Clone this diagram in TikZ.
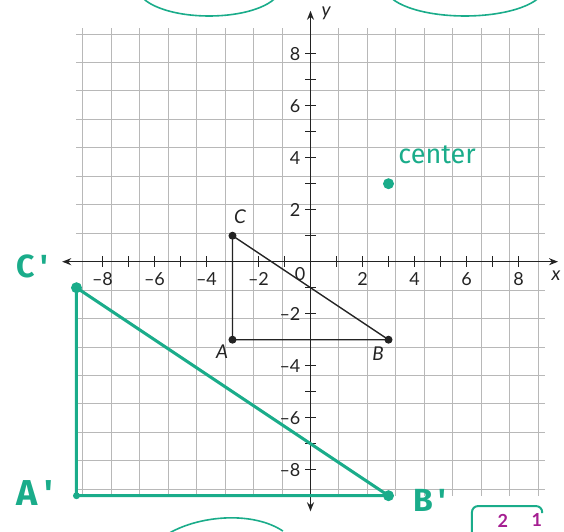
\documentclass[tikz,border=0pt]{standalone}
\usepackage{fontspec}
\setmainfont{Lato}
\newfontfamily\handfont{Fira Sans}
\usetikzlibrary{arrows.meta}
\definecolor{tealg}{RGB}{26,172,138}
\definecolor{gridgray}{RGB}{184,184,184}
\definecolor{mag}{RGB}{165,30,145}
\definecolor{ink}{RGB}{35,35,35}
\begin{document}
\begin{tikzpicture}[x=26pt,y=26pt,
  >={Stealth[length=9pt,width=7pt]},
  gridline/.style={gridgray, line width=1pt},
  axis/.style={line width=1.6pt, ink},
  tickmark/.style={line width=1.3pt, ink},
  ticklabel/.style={font=\fontsize{18}{20}\selectfont, text=ink, inner sep=0pt},
  ptlabel/.style={font=\fontsize{19}{21}\selectfont\itshape, text=ink, inner sep=0pt},
  tri/.style={line width=1.4pt, ink},
  dot/.style={circle, fill=ink, inner sep=0pt, minimum size=8pt},
  gdot/.style={circle, fill=tealg, inner sep=0pt, minimum size=11pt},
  gline/.style={line width=3pt, tealg},
  hand/.style={font=\handfont\bfseries\fontsize{32}{34}\selectfont, text=tealg, inner sep=0pt},
  doodle/.style={line width=1.6pt, tealg}
]
\useasboundingbox (-11.942,-10.396) rectangle (9.75,10.065);
% grid
\draw[gridline] (-9,-9) grid (9,9);
% doodles at the edges
\draw[doodle] (-3.9,10.53) ellipse [x radius=2.73, y radius=1.08];
\draw[doodle] (5.94,10.55) ellipse [x radius=3.05, y radius=1.1];
\coordinate (d1) at (-5.4,-10.42);
\coordinate (d2) at (-1.06,-10.36);
\draw[doodle] (d1) .. controls (-4.2,-9.75) and (-2.2,-9.6) .. (d2);
\coordinate (b1) at (6.21,-10.6);
\coordinate (b2) at (8.91,-9.67);
\draw[doodle, line width=2pt, rounded corners=6pt] (b1) -- (6.21,-9.40) -- (8.91,-9.40) -- (b2);
\node[font=\fontsize{18}{20}\selectfont\bfseries, text=mag] (two) at (7.4,-9.98) {2};
\node[font=\fontsize{18}{20}\selectfont\bfseries, text=mag] (one) at (8.71,-9.95) {1};
% axes
\coordinate (xl) at (-9.55,0);
\coordinate (xr) at (9.52,0);
\coordinate (yb) at (0,-9.6);
\coordinate (yt) at (0,9.65);
\draw[axis, <->] (xl) -- (xr);
\draw[axis, <->] (yb) -- (yt);
\foreach \i in {-8,...,-1,1,2,...,8}{
  \draw[tickmark] (\i,-0.2) -- (\i,0.2);
  \draw[tickmark] (-0.2,\i) -- (0.2,\i);
}
\foreach \i/\t in {-8/–8,-6/–6,-4/–4,-2/–2,2/2,4/4,6/6,8/8}{
  \node[ticklabel] (xt\i) at (\i,-0.68) {\t};
  \node[ticklabel, anchor=east] (yt\i) at (-0.38,\i) {\t};
}
\node[ticklabel] (zero) at (-0.4,-0.47) {0};
\node[ptlabel] (xlab) at (9.44,-0.55) {x};
\node[ptlabel] (ylab) at (0.6,9.55) {y};
% triangle ABC
\coordinate (A) at (-3,-3);
\coordinate (B) at (3,-3);
\coordinate (C) at (-3,1);
\draw[tri] (A) -- (B) -- (C) -- cycle;
\node[dot] (Ad) at (A) {};
\node[dot] (Bd) at (B) {};
\node[dot] (Cd) at (C) {};
\node[ptlabel] (Al) at (-3.4,-3.47) {A};
\node[ptlabel] (Bl) at (2.6,-3.55) {B};
\node[ptlabel] (Cl) at (-2.71,1.72) {C};
% image triangle
\coordinate (Ap) at (-9,-9);
\coordinate (Bp) at (3,-9);
\coordinate (Cp) at (-9,-1);
\draw[gline] (Cp) -- (Bp) -- (Ap) -- cycle;
\node[gdot, minimum size=7pt] (Apd) at (Ap) {};
\node[gdot] (Bpd) at (Bp) {};
\node[gdot] (Cpd) at (Cp) {};
\node[gdot] (ctr) at (3,3) {};
\node[hand] (Cpl) at (-10.7,-0.2) {C\,\textquotesingle};
\node[hand, font=\handfont\bfseries\fontsize{36}{38}\selectfont] (Apl) at (-10.6,-8.9) {A\,\textquotesingle};
\node[hand] (Bpl) at (4.6,-9.2) {B\,\textquotesingle};
\node[hand, font=\handfont\fontsize{27}{29}\selectfont] (ctrl) at (4.87,4.1) {center};
\end{tikzpicture}
\end{document}
